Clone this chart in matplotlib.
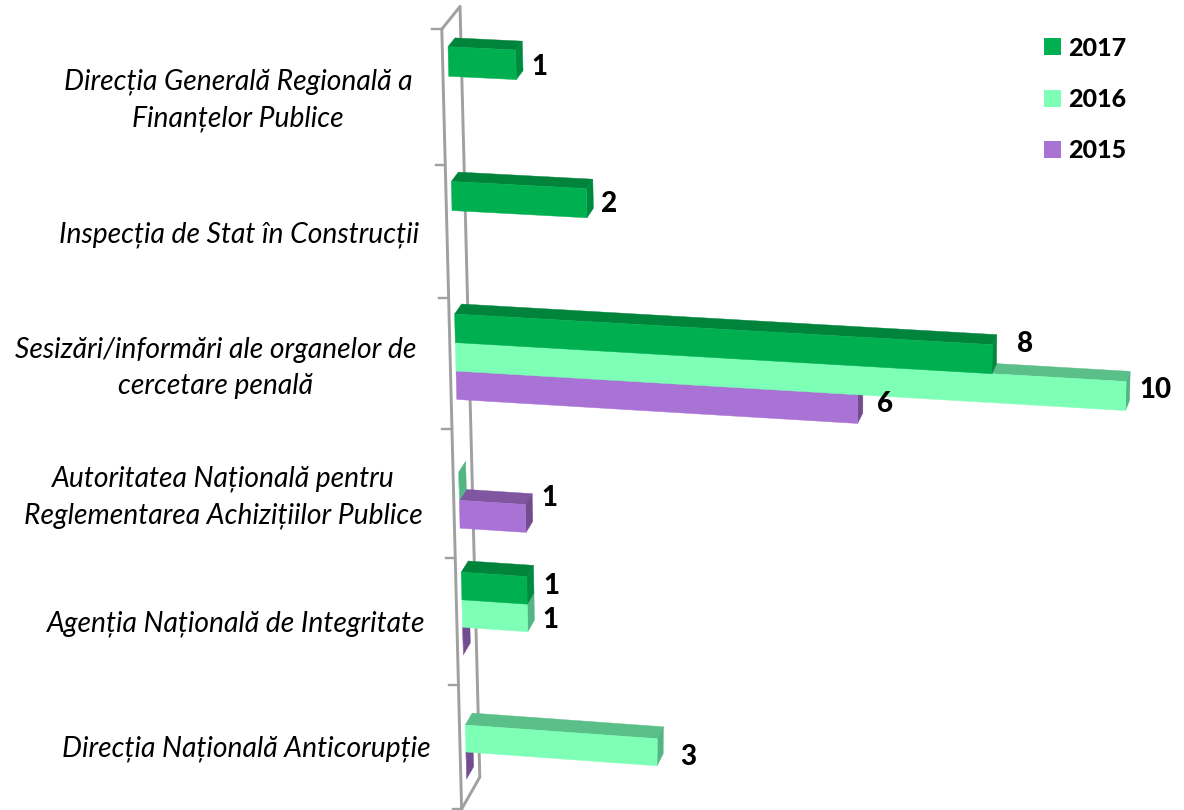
import numpy as np
import matplotlib
matplotlib.use("Agg")
import matplotlib.pyplot as plt
from matplotlib.patches import Patch

categories = [
    "Direcția Generală Regională a\nFinanțelor Publice",
    "Inspecția de Stat în Construcții",
    "Sesizări/informări ale organelor de\ncercetare penală",
    "Autoritatea Națională pentru\nReglementarea Achizițiilor Publice",
    "Agenția Națională de Integritate",
    "Direcția Națională Anticorupție",
]
years = ["2017", "2016", "2015"]
values_2017 = [1, 2, 8, None, 1, None]
values_2016 = [None, None, 10, 0, 1, 3]
values_2015 = [None, None, 6, 1, 0, 0]

# styling / layout (front, top, side colours per series)
FRONT = ["#00B050", "#7DFFB6", "#A972D5"]
TOP = ["#00843C", "#5BBF8A", "#7F569F"]
SIDE = ["#008A3F", "#52B583", "#714C8E"]
AXIS = "#A0A0A0"
BAR_STEP = 0.218
LABEL_CENTERS = [(238, 100), (239, 235), (216, 368), (223, 497), (236, 624), (246, 749)]
NUDGE = {(0, 0): (23, 2), (1, 0): (22, 1), (2, 0): (33, -15), (2, 1): (30, -6), (2, 2): (27, -5),
         (3, 2): (24, -20), (4, 0): (24, -4), (4, 1): (23, 2), (5, 1): (31, 5)}
FONT = "Lato"


def project(v, r, d=0.0):
    """Perspective mapping of (value, row, depth) to figure pixels."""
    v, r, d = np.asarray(v, float), np.asarray(r, float), np.asarray(d, float)
    w = 67.6 + 0.1 * r - 0.15 * r ** 2
    x = 448 + 3.3 * r + v * w + d * (7.0 - 0.3 * v)
    y = (46.7 + 135.93 * r - 1.138 * r ** 2 + v * w * (0.048 + 0.0045 * r)
         - d * (8.8 + 0.6 * r))
    return x, y


fig = plt.figure(figsize=(11.84, 8.10), dpi=100)
ax = fig.add_axes([0, 0, 1, 1])
ax.set_xlim(0, 1184)
ax.set_ylim(810, 0)
ax.axis("off")

# walls
n = len(categories)
R0, R1 = -0.18, n - 0.18
wall = dict(color=AXIS, lw=2.1, solid_capstyle="round", zorder=1)
fx, fy = project([0, 0], [R0, R1], -0.8)
bx, by = project([0, 0], [R0, R1], 1.8)
ax.plot(fx, fy, **wall)
ax.plot(bx, by, **wall)
ax.plot([fx[0], bx[0]], [fy[0], by[0]], **wall)
ax.plot([fx[1], bx[1]], [fy[1], by[1]], **wall)
for i in range(n + 1):
    tx, ty = project([-0.14, 0], [R0 + i] * 2, -0.8)
    ax.plot(tx, [ty[1], ty[1]], color=AXIS, lw=1.7, zorder=1)

series = [values_2017, values_2016, values_2015]
z = 2
for c in range(n - 1, -1, -1):
    for k in (2, 1, 0):
        val = series[k][c]
        if val is None:
            continue
        r0, r1 = c + k * BAR_STEP, c + (k + 1) * BAR_STEP
        # top face
        x, y = project([0, val, val, 0], [r0] * 4, [0, 0, 1, 1])
        ax.fill(x, y, color=TOP[k], lw=0.3, zorder=z)
        # side face
        x, y = project([val] * 4, [r0, r1, r1, r0], [0, 0, 1, 1])
        ax.fill(x, y, color=SIDE[k], lw=0.3, zorder=z)
        # front face
        x, y = project([0, val, val, 0], [r0, r0, r1, r1], 0)
        ax.fill(x, y, color=FRONT[k], lw=0.3, zorder=z + 0.5)
        z += 1
        if val:
            lx, ly = project(val, (r0 + r1) / 2, 0)
            dx, dy = NUDGE[(c, k)]
            ax.text(lx + dx, ly + dy, str(val), fontsize=20, fontweight=900, family=FONT,
                    ha="center", va="center", color="black", zorder=50)

for label, (cx, cy) in zip(categories, LABEL_CENTERS):
    ax.text(cx, cy, label, fontsize=20.3, style="italic", family=FONT, ha="center", va="center",
            color="black", linespacing=1.48)

handles = [Patch(facecolor=f, edgecolor="none") for f in FRONT]
ax.legend(handles, years, loc="upper left", bbox_to_anchor=(1036 / 1184, 1 - 29 / 810),
          frameon=False, prop={"family": FONT, "weight": 900, "size": 18},
          handlelength=0.68, handleheight=0.68, handletextpad=0.32, labelspacing=1.14,
          borderpad=0.3, borderaxespad=0)

fig.savefig("out.png", dpi=100, facecolor="white")
